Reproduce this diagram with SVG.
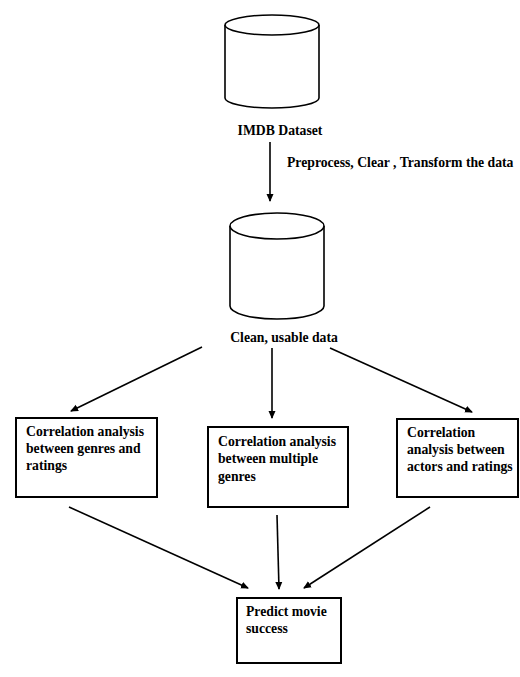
<svg xmlns="http://www.w3.org/2000/svg" width="520" height="677" viewBox="0 0 520 677">
<defs>
<marker id="ah" markerWidth="8" markerHeight="8" refX="7" refY="4" orient="auto" markerUnits="userSpaceOnUse">
<path d="M0,0.5 L8,4 L0,7.5 Z" fill="#000"/>
</marker>
<style>
.t{font-family:"Liberation Serif","Times New Roman",serif;font-weight:bold;font-size:13.7px;fill:#000}
.b{fill:#fff;stroke:#000;stroke-width:2}
.c{fill:#fff;stroke:#000;stroke-width:1.6}
.e{stroke:#000;stroke-width:1.6;fill:none;marker-end:url(#ah)}
</style>
</defs>
<rect width="520" height="677" fill="#fff"/>
<g id="imdb">
<path class="c" d="M225,25 L225,98 A47,10 0 0 0 319,98 L319,25"/>
<ellipse class="c" cx="272" cy="25" rx="47" ry="10"/>
<text class="t" x="280" y="135" text-anchor="middle">IMDB Dataset</text>
</g>
<g id="clean">
<path class="c" d="M230,226 L230,306 A47,13 0 0 0 324,306 L324,226"/>
<ellipse class="c" cx="277" cy="226" rx="47" ry="13"/>
<text class="t" x="284" y="342" text-anchor="middle">Clean, usable data</text>
</g>
<g id="genres-ratings">
<rect class="b" x="16" y="418" width="141" height="79"/>
<text class="t" x="26" y="436">Correlation analysis</text>
<text class="t" x="26" y="453">between genres and</text>
<text class="t" x="26" y="470">ratings</text>
</g>
<g id="multiple-genres">
<rect class="b" x="208" y="427" width="140" height="80"/>
<text class="t" x="218" y="446">Correlation analysis</text>
<text class="t" x="218" y="463">between multiple</text>
<text class="t" x="218" y="481">genres</text>
</g>
<g id="actors-ratings">
<rect class="b" x="397" y="419" width="121" height="78"/>
<text class="t" x="407" y="437">Correlation</text>
<text class="t" x="407" y="454">analysis between</text>
<text class="t" x="407" y="471">actors and ratings</text>
</g>
<g id="predict">
<rect class="b" x="237" y="598" width="104" height="65"/>
<text class="t" x="246" y="616">Predict movie</text>
<text class="t" x="246" y="633">success</text>
</g>
<g id="connectors">
<line class="e" x1="270" y1="142" x2="270" y2="201"/>
<text class="t" x="287" y="167">Preprocess, Clear , Transform the data</text>
<line class="e" x1="202" y1="347" x2="71" y2="411"/>
<line class="e" x1="272" y1="348" x2="272" y2="418"/>
<line class="e" x1="330" y1="348" x2="472" y2="412"/>
<line class="e" x1="69" y1="507" x2="248" y2="588"/>
<line class="e" x1="277" y1="515" x2="279" y2="589"/>
<line class="e" x1="430" y1="507" x2="304" y2="588"/>
</g>
</svg>
